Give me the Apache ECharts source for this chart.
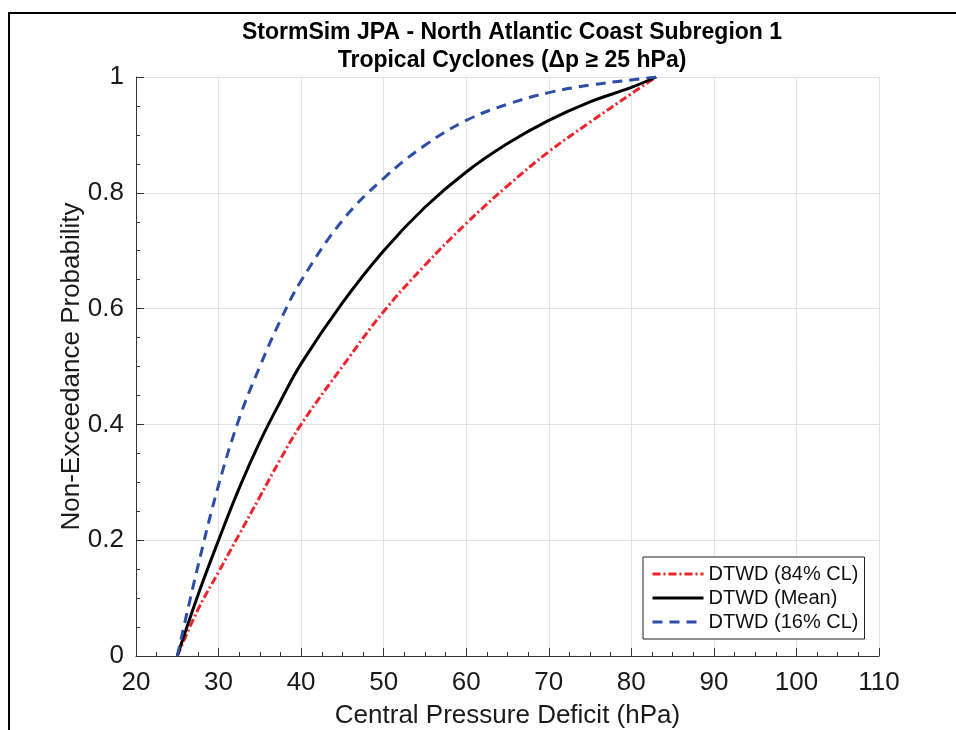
<!DOCTYPE html>
<html>
<head>
<meta charset="utf-8">
<script src="https://cdn.jsdelivr.net/npm/echarts@6/dist/echarts.min.js"></script>
<style>html,body{margin:0;padding:0;background:#fff;}#c{width:956px;height:730px;}</style>
</head>
<body>
<div id="c"></div>
<script>
// Data
var titleLines = ['StormSim JPA - North Atlantic Coast Subregion 1', 'Tropical Cyclones (\u0394p \u2265 25 hPa)'];
var xAxisName = 'Central Pressure Deficit (hPa)';
var yAxisName = 'Non-Exceedance Probability';
var seriesNames = ['DTWD (84% CL)', 'DTWD (Mean)', 'DTWD (16% CL)'];

// Central pressure deficit (hPa) sample positions
var pressureX = [25, 27.5, 30, 32.5, 35, 37.5, 40, 45, 50, 55, 60, 65, 70, 75, 80, 83];
// Non-exceedance probability for each curve
var cl84Y = [0, 0.08, 0.145, 0.21, 0.275, 0.34, 0.40, 0.50, 0.595, 0.675, 0.747, 0.812, 0.871, 0.922, 0.971, 1.0];
var meanY = [0, 0.105, 0.20, 0.29, 0.37, 0.44, 0.505, 0.61, 0.70, 0.775, 0.836, 0.885, 0.925, 0.957, 0.982, 1.0];
var cl16Y = [0, 0.155, 0.295, 0.41, 0.50, 0.58, 0.648, 0.752, 0.825, 0.882, 0.925, 0.953, 0.973, 0.986, 0.995, 1.0];

function pairs(xs, ys) { return xs.map(function (x, i) { return [x, ys[i]]; }); }

var FONT = 'Liberation Sans, Arial, Helvetica, sans-serif';
var chart = echarts.init(document.getElementById('c'), null, {renderer: 'canvas'});

var axisCommon = {
  axisLine: {show: true, lineStyle: {color: '#333', width: 1}},
  axisTick: {show: true, inside: true, length: 8, lineStyle: {color: '#333'}},
  minorTick: {show: true, splitNumber: 4, length: 4, lineStyle: {color: '#333'}},
  splitLine: {show: true, lineStyle: {color: '#e3e3e3', width: 1}},
  nameLocation: 'middle',
  nameMoveOverlap: false,
  nameTextStyle: {fontFamily: FONT, fontSize: 26, color: '#1a1a1a'},
  axisLabel: {fontFamily: FONT, fontSize: 26, color: '#1a1a1a'}
};

var option = {
  backgroundColor: '#fff',
  animation: false,
  title: {
    text: titleLines.join('\n'),
    left: 507,
    top: 14,
    textAlign: 'center',
    textStyle: {fontFamily: FONT, fontSize: 23, fontWeight: 'bold', color: '#000', lineHeight: 28}
  },
  grid: {left: 136, right: 77, top: 77, bottom: 74, containLabel: false, outerBoundsMode: 'none'},
  xAxis: Object.assign({}, axisCommon, {
    type: 'value', min: 20, max: 110, interval: 10,
    name: xAxisName, nameGap: 47,
    axisLabel: Object.assign({}, axisCommon.axisLabel, {margin: 14})
  }),
  yAxis: Object.assign({}, axisCommon, {
    type: 'value', min: 0, max: 1, interval: 0.2,
    name: yAxisName, nameGap: 51,
    axisLabel: Object.assign({}, axisCommon.axisLabel, {margin: 12})
  }),
  legend: {
    orient: 'vertical',
    left: 643, top: 557,
    backgroundColor: '#fff',
    borderColor: '#222',
    borderWidth: 1,
    padding: [7, 6, 7, 8],
    itemWidth: 51, itemHeight: 14, itemGap: 4,
    itemStyle: {opacity: 0},
    lineStyle: {width: 3},
    textStyle: {fontFamily: FONT, fontSize: 20, color: '#111'},
    data: seriesNames
  },
  graphic: [{
    type: 'rect', silent: true, z: 100,
    shape: {x: 9, y: 13, width: 1200, height: 1000},
    style: {fill: 'none', stroke: '#000', lineWidth: 2}
  }],
  series: [
    {name: seriesNames[0], type: 'line', data: pairs(pressureX, cl84Y), symbol: 'none', smooth: 0.4,
     lineStyle: {color: '#f0252b', width: 3, type: [8, 3, 2, 3]}, itemStyle: {color: '#f0252b'}},
    {name: seriesNames[1], type: 'line', data: pairs(pressureX, meanY), symbol: 'none', smooth: 0.4,
     lineStyle: {color: '#000', width: 3, type: 'solid'}, itemStyle: {color: '#000'}},
    {name: seriesNames[2], type: 'line', data: pairs(pressureX, cl16Y), symbol: 'none', smooth: 0.4,
     lineStyle: {color: '#2c4ea6', width: 3, type: [10, 7]}, itemStyle: {color: '#2c4ea6'}}
  ]
};
chart.setOption(option);
</script>
</body>
</html>
